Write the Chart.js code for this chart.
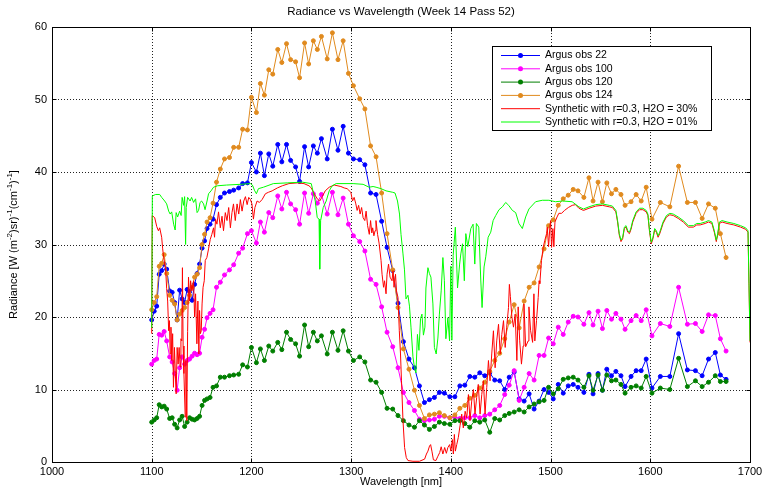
<!DOCTYPE html>
<html>
<head>
<meta charset="utf-8">
<script src="https://cdn.jsdelivr.net/npm/chart.js@4.4.0/dist/chart.umd.min.js"></script>
<style>
  body { margin: 0; background: #fff; }
</style>
</head>
<body>
<canvas id="chart" width="767" height="491"></canvas>
<script>
// Radiance vs wavelength - Argus observations and synthetic spectra

const FONT = '"Liberation Sans", Arial, Helvetica, sans-serif';

// Axis ticks
const xTicks = [1000, 1100, 1200, 1300, 1400, 1500, 1600, 1700];
const yTicks = [0, 10, 20, 30, 40, 50, 60];

// Argus channel wavelengths [nm]
const wavelength = [
    1100, 1102.5, 1105, 1107.5, 1110, 1112.5, 1115, 1118, 1120.5, 1123,
    1125.5, 1128, 1130.5, 1133, 1135.5, 1138, 1140.5, 1143, 1145.5, 1148,
    1150.5, 1153, 1155.5, 1158.5, 1161.5, 1165, 1168.8, 1173, 1178, 1182.2,
    1187.2, 1191.2, 1196, 1200, 1205, 1209, 1213, 1217.4, 1221.4, 1226.4,
    1230.5, 1235.2, 1239.3, 1244.3, 1248.3, 1253.3, 1257.4, 1262.1, 1266.1, 1270.2,
    1276, 1281.2, 1286.8, 1292, 1297.3, 1302.3, 1308.6, 1313.8, 1319.5, 1325,
    1330.6, 1336, 1341.7, 1347, 1352.4, 1358, 1363.5, 1368.5, 1373.5, 1378.5,
    1383.5, 1388.5, 1393.5, 1399, 1404, 1409, 1414, 1419, 1424, 1429,
    1434, 1439, 1444, 1449, 1454, 1458.5, 1463.5, 1468.5, 1473.5, 1478.5,
    1483.5, 1488.5, 1493.5, 1498, 1502.7, 1507.7, 1512.7, 1517.7, 1522.7, 1527.5,
    1533.4, 1538.5, 1542.6, 1547.6, 1552, 1556.4, 1561.1, 1565.5, 1570.6, 1574.7,
    1580.7, 1585.8, 1590.9, 1595.9, 1601.7, 1610.1, 1619.6, 1628.4, 1637.2, 1645.3,
    1652, 1658.4, 1665.2, 1670.3, 1676
];

// Argus obs 22
const obs22 = [
    19.6, 20.8, 21.5, 25.9, 26.4, 27.3, 26.6, 23.6, 23.4, 22,
    19.6, 23.7, 22.5, 22, 23.8, 23.5, 22.3, 24.5, 26, 27.3,
    29.5, 30.5, 32.2, 32.8, 33.5, 35.5, 36.5, 37.1, 37.3, 37.5,
    37.8, 38.4, 38.5, 41.3, 40, 42.6, 39.5, 42.5, 40.8, 43.8,
    41.4, 43.8, 41.6, 40.7, 38.7, 43.5, 40.7, 43.6, 42.6, 44.6,
    41.8, 45.9, 43, 46.3, 42.6, 41.8, 41.7, 41, 37.1, 36.9,
    33.2, 29.6, 26.4, 21.9, 16.6, 14.2, 13, 10.5, 8.2, 8.6,
    8.9, 9.6, 9.5, 9.0, 9.0, 10.5, 10.6, 11.8, 11.7, 12.3,
    11.9, 12.3, 11.3, 11.2, 10, 11.7, 12.4, 8.7, 8.4, 9.4,
    7.3, 8.4, 10, 9.6, 8.7, 10.7, 9.5, 10.5, 10.7, 10.3,
    9.6, 12.1, 9.4, 12.2, 9.9, 12.8, 11.9, 12.5, 11.9, 10.4,
    11.8, 12.6, 12.6, 14.2, 10.2, 11.8, 11.8, 17.7, 12.7, 12.6,
    11.9, 14.2, 15.1, 12, 11.4
];

// Argus obs 100
const obs100 = [
    13.5, 14, 14.2, 17.6, 17.5, 18, 16.7, 14.5, 13.8, 12.2,
    9.9, 13, 14.5, 13.5, 14, 14.2, 14.6, 15, 14.8, 15,
    17.2, 18.3, 19.9, 20.5, 21, 24.1, 24.8, 25.8, 26.5, 27.2,
    28.8, 29.5, 31.5, 31.9, 30.2, 33.1, 31.7, 34.4, 33.7, 36.7,
    34.9, 37.2, 35.6, 34.8, 32.8, 37.1, 34.3, 37, 35.7, 36.9,
    34.2, 37.2, 34.1, 36.4, 32.8, 31.2, 30.4, 29.1, 25.2, 24.5,
    21.4, 17.9, 15.9, 13, 9.6, 8.2, 7.1, 5.9, 5.7, 5.8,
    5.9, 6.3, 6.3, 6.1, 6.2, 6.0, 6.1, 6.1, 6.4, 6.1,
    6.4, 6.6, 7.2, 7.8, 9.3, 10.6, 12.6, 8.5, 10.3, 12.2,
    11.3, 14.7, 14.7, 17.1, 16.3, 18.6, 17.6, 19.3, 20.1, 20,
    19, 20.6, 18.9, 20.8, 18.4, 20.9, 19.7, 20.5, 19.7, 18.3,
    19.5, 20.2, 19.5, 21, 17.4, 19.1, 18.7, 24.1, 19, 19.1,
    18, 20.3, 20.2, 17, 15.3
];

// Argus obs 120
const obs120 = [
    5.5, 5.8, 6.1, 7.9, 7.6, 7.7, 7.3, 6, 6.1, 5.2,
    4.7, 5.8, 6.3, 4.9, 5.5, 6.1, 5.9, 5.8, 6.0, 6.3,
    7.8, 8.5, 8.7, 8.9, 10.3, 10.5, 11.7, 11.7, 11.9, 12,
    12.1, 13.4, 13.1, 15.8, 13.7, 15.6, 14, 16, 15.3, 16.5,
    15.5, 17.9, 16.9, 16.3, 14.6, 18.9, 15.9, 17.9, 16.7, 17.4,
    14.9, 17.9, 15.4, 18.1, 15.3, 14, 14.5, 13.8, 11.3, 11,
    9.6, 7.4, 7.3, 6.4, 5.7, 5.1, 4.8, 5.7, 5.1, 4.5,
    4.9, 5.5, 5.3, 5.2, 5.7, 5.7, 5.3, 4.8, 5.7, 5.5,
    5.8, 4.1, 6.0, 5.8, 6.4, 6.7, 6.9, 7.2, 6.9, 7.6,
    8, 8.3, 8.5, 10.3, 9.4, 10.1, 11.4, 11.6, 11.7, 11.3,
    10.3, 11.9, 9.9, 12, 9.9, 12, 11.2, 11.3, 10.7, 9.5,
    10.3, 10.5, 10.2, 11.8, 9.5, 10.2, 10, 14.3, 10.4, 11.2,
    10.4, 11, 11.9, 11.1, 11.1
];

// Argus obs 124
const obs124 = [
    21, 22, 22.8, 27, 27.4, 28.6, 26, 23, 22.3, 21.8,
    19.6, 20.4, 20.9, 21.3, 22, 23, 24.1, 25.5, 25.9, 26.8,
    30, 31.4, 33.1, 33.7, 35.7, 38.6, 40.4, 41.8, 42, 43.4,
    43.4, 45.9, 45.8, 50.3, 48.2, 52.2, 50.6, 54.1, 53.5, 56.9,
    55.1, 57.7, 55.5, 55.2, 53, 57.8, 54.9, 58.1, 56.9, 58.7,
    55.6, 59.2, 55.5, 58.1, 53.6, 51.9, 50.1, 48.7, 43.6, 42.1,
    37.1, 31.5, 26.5, 21.3, 15.6, 12.8, 9.9, 7.8, 6, 6.5,
    6.6, 6.8, 6.4, 6.1, 6.5, 7.4, 7.8, 8.8, 9.2, 10.2,
    11, 12.5, 14, 15, 17, 19.3, 21.7, 18.5, 22.2, 24.1,
    24.7, 26.9, 29.4, 32.6, 33.4, 35.4, 36.3, 36.8, 37.6, 37.4,
    36.5, 39.2, 36, 38.6, 35.9, 38.5, 37, 37.6, 36.9, 35.4,
    35.9, 36.9, 36, 37.9, 33.5, 35.8, 35.2, 40.8, 35.8, 35.8,
    33.6, 35.6, 35, 31.5, 28.2
];

// Synthetic, r=0.3, H2O = 30%  [wavelength, radiance]
const syn30 = [
    [1100,17.7],[1100.5,34],[1103,33.7],[1105,32.5],[1106.7,31.9],[1108,32.3],[1110,31],[1111,29.4],
    [1112,28.2],[1113,27.3],[1114,26.5],[1115,23.9],[1116,22.2],[1117,18.1],[1117.8,19.5],[1118.5,14.9],
    [1119.3,18.6],[1120.1,14],[1121,17.7],[1121.8,10.3],[1122.8,15.8],[1123.7,12.2],[1124.5,9.4],[1125.5,15.8],
    [1126.5,13.5],[1127.5,15.8],[1128.5,13.1],[1129.3,17],[1130.2,16.7],[1130.8,26.8],[1131.5,16],[1132.3,12.2],
    [1133.6,6.2],[1134.3,14],[1135.2,5.7],[1136,18],[1136.9,25.5],[1137.9,22.2],[1139,25],[1140.3,23.6],
    [1141.3,24.5],[1142,25],[1143,20],[1144,23.2],[1145.3,16.3],[1146.3,22.2],[1147.3,14.9],[1148,20.9],
    [1148.8,17.7],[1149.7,18.1],[1150.5,21.8],[1151.5,24.1],[1152.7,25],[1153.7,27.8],[1155.3,28.2],[1157,29.4],
    [1158.7,30.7],[1160.3,31.4],[1162,32.3],[1163,31],[1164,33.5],[1165.4,32.8],[1167,34.5],[1168.8,32.3],
    [1170.5,33.9],[1172,31.9],[1173.8,34.4],[1175.5,33.3],[1177.2,35.1],[1178.9,32.3],[1180.5,34.4],[1182,35.6],
    [1183.8,33.3],[1185.6,35.6],[1187.3,34.2],[1188.9,36.2],[1190.6,34.6],[1192.3,36],[1194,36.6],[1195.7,35.5],
    [1197.3,36.5],[1199,36.2],[1200.5,35.6],[1202,33.5],[1203.5,35.1],[1205.7,36],[1208,35.8],[1210.7,36.2],
    [1214,37],[1217,37.2],[1220.8,37.4],[1226,37.8],[1231,38.1],[1237.6,38.4],[1246,38.5],[1252.7,38.4],
    [1257.7,38.1],[1260,37.8],[1263,37],[1266,36.3],[1268.5,36],[1271,36.6],[1274,37.4],[1278,37.9],
    [1283,38.2],[1289.7,38],[1293,37.8],[1296,37.7],[1299.7,37.2],[1301.4,36],[1303,36.5],[1304.7,35.6],
    [1306,34.7],[1307.5,35.4],[1309,34.2],[1310.5,35.1],[1312,33.7],[1313.7,33.3],[1315,34.6],[1316.5,32.6],
    [1318.2,31.4],[1319.5,33.3],[1320.7,31.6],[1321.6,32.3],[1322.8,31.2],[1324,31.9],[1324.9,33.3],[1326.5,31.4],
    [1328,30.2],[1330,27.8],[1331,25.9],[1332.5,24.1],[1333.5,25],[1335,23.2],[1336,25.9],[1337.5,27.3],
    [1339,25.5],[1341,25],[1342,26.4],[1343,24.1],[1344.5,25.9],[1345.5,23.6],[1347,22.7],[1348.3,18.1],
    [1349.5,14.9],[1350.5,11.2],[1352,5.7],[1353.6,2],[1355.3,0.6],[1357,0.2],[1362,0.1],[1368.5,0.1],
    [1373.7,0.4],[1375.5,1.1],[1377,1.5],[1378.6,2.2],[1379.7,2.4],[1381,1.5],[1382.5,0.3],[1385,0.2],
    [1387,0.8],[1388.8,1.3],[1390.3,2.1],[1392,1.1],[1393.8,2],[1395.5,1.2],[1397,2],[1398.8,2.4],
    [1400,1.5],[1401.5,3.1],[1402.5,1.1],[1403.5,3.8],[1404.5,1.5],[1405.9,2.4],[1407.5,3.4],[1409.2,5],
    [1410.9,6.6],[1412.5,4.7],[1414.3,7],[1416,6.1],[1417.6,9.3],[1419.2,5.7],[1420.9,8.4],[1422.6,10],
    [1424.2,6.6],[1425.9,8.9],[1427.5,10.7],[1429.3,6.6],[1431,9.3],[1432.6,11.2],[1434.3,6.6],[1436,10.3],
    [1437.7,14],[1439.3,11.2],[1441,14.9],[1442.7,18.1],[1444.4,13],[1446,16.7],[1447.8,19],[1449.5,14.9],
    [1451.1,17.6],[1452.8,19.5],[1454.5,15.8],[1456,18.6],[1457.8,21.3],[1458.7,24.5],[1459.7,22.8],[1461.2,20],
    [1462.8,18.6],[1464.5,20.4],[1466.2,14],[1467.5,21.4],[1469,16.8],[1470.8,13.5],[1472.5,16],[1473.3,21.8],
    [1475,15.9],[1477.5,16.7],[1478.3,21.4],[1480,18.1],[1482,16.5],[1483.3,23.2],[1484.2,16.7],[1485.9,19.5],
    [1487.6,22.7],[1488.5,25],[1489.2,24.6],[1490.9,27.8],[1492.6,29.6],[1494.3,30.6],[1496,31.5],[1496.7,32.4],
    [1498,29.7],[1499.3,32.4],[1500,33.3],[1501,29.6],[1502.3,32.2],[1503.3,29.7],[1504.4,33.1],[1506.5,33.8],
    [1508.3,34.3],[1511,34.3],[1514,34.7],[1517.8,35.1],[1521.7,35.4],[1525,35.5],[1528.4,35.0],[1533,34.7],
    [1538.5,35.0],[1545.3,35.3],[1552,35.4],[1558.8,35.2],[1562,35.1],[1565.5,34.5],[1567.2,33.1],[1568.9,31.3],
    [1570.6,30.4],[1572.3,30.8],[1574,32.2],[1575.7,32.4],[1577.4,31.7],[1579.1,31.5],[1580.7,32.1],[1582.4,33.1],
    [1585.8,34.3],[1589.2,34.8],[1592.6,34.8],[1595.9,34.5],[1597.6,34],[1599.3,31.7],[1601,30.1],[1602.7,30.8],
    [1604.4,32],[1606.1,31.7],[1607.8,31],[1609.5,31.5],[1612.8,32.9],[1616.2,33.8],[1619.6,34.1],[1623,34],
    [1628,33.6],[1633.1,33.1],[1638.2,32.4],[1643.2,32.4],[1646.6,32.7],[1650,32.7],[1655,32.9],[1658.4,33.1],
    [1661.8,32.9],[1664.2,31.7],[1666.2,30.4],[1667.6,31.3],[1669.3,32.9],[1672,33.1],[1677,32.9],[1683.8,32.7],
    [1690.5,32.4],[1695.6,32.1],[1698,31.7],[1699,24.4],[1700,16.5]
];

// Synthetic, r=0.3, H2O = 01%  [wavelength, radiance]
const syn01 = [
    [1100,18.5],[1100.6,36.7],[1104,36.9],[1108,36.9],[1110,36.5],[1113,36],[1115,35.6],[1117,34.6],
    [1118.5,34.2],[1120,34.5],[1122,32.8],[1123.5,32],[1124.5,34.4],[1126,33.8],[1128,34.6],[1129.5,34],
    [1130.5,36.5],[1132,35.4],[1133,36.6],[1134,30],[1134.6,35.1],[1136,36.5],[1138.5,36],[1140,36.5],
    [1142,35.8],[1144,36.3],[1145.5,34.4],[1147,34.7],[1148.5,35.8],[1150,36],[1152,35.6],[1153.5,34.8],
    [1155.5,36],[1157,37],[1159.5,37.4],[1162,37.9],[1166,38.1],[1175,38.2],[1189,38.3],[1199,38.4],
    [1201,38.2],[1203,37.5],[1205,37],[1207,37.7],[1212,37.9],[1222,38.4],[1236,38.5],[1251,38.6],
    [1260,38.4],[1264,36],[1266,33.7],[1267.8,33.5],[1268.5,26.6],[1269.4,33.3],[1272,35.1],[1275,36],
    [1278,37.4],[1281,38.1],[1285,38.4],[1302,38.4],[1312,38.3],[1318,37.9],[1322,38],[1325,37.9],
    [1330,37.7],[1335,37.4],[1341.7,37.2],[1344,37.1],[1346.5,36],[1348.5,34.2],[1350,31.4],[1352,28.7],
    [1353.5,26.5],[1355,22.5],[1357,23],[1358.5,21.5],[1360,18.6],[1362,14.5],[1363.5,13],[1365,12.3],
    [1366.5,17.6],[1368,15.4],[1369.6,19.8],[1371,20.4],[1372.5,17.5],[1374,18.6],[1375,24],[1377,26.8],
    [1378.5,26],[1380,25.5],[1382,21.8],[1383.5,15.8],[1385.3,14.9],[1387,17.1],[1388.5,20.4],[1390.3,23.6],
    [1392,28.2],[1393.5,25],[1395,17],[1397,19.9],[1398.7,16.7],[1400,27],[1401,16.8],[1402.3,28.5],
    [1404.5,32.4],[1406.7,24],[1408.8,27.3],[1410,28.7],[1411.7,30.1],[1413.5,25],[1415,31.5],[1417,29.7],
    [1420,32.2],[1422.3,32.8],[1424,27.3],[1425.6,32.9],[1428,32.4],[1430,25.1],[1431.3,21.3],[1433.3,26.9],
    [1435,28.3],[1437.4,31],[1440,31.7],[1442.4,33.3],[1445,34],[1448.3,34.8],[1451.7,35.2],[1455,35.8],
    [1458,35.4],[1461.7,34.7],[1465,34.4],[1468.3,32.9],[1471.7,32.2],[1475,33.8],[1478.3,34.9],[1485,35.9],
    [1491.7,36.1],[1498.3,36.1],[1505,35.9],[1512,36],[1521.6,35.9],[1528.4,35.2],[1533,34.9],[1538.5,35.2],
    [1545.3,35.5],[1552,35.6],[1558.8,35.4],[1562,35.3],[1565.5,34.7],[1567.2,33.3],[1568.9,31.5],[1570.6,30.6],
    [1572.3,31],[1574,32.4],[1575.7,32.6],[1577.4,31.9],[1579.1,31.7],[1580.7,32.3],[1582.4,33.3],[1585.8,34.5],
    [1589.2,35],[1592.6,35],[1595.9,34.7],[1597.6,34.2],[1599.3,31.9],[1601,30.3],[1602.7,31],[1604.4,32.2],
    [1606.1,31.9],[1607.8,31.2],[1609.5,31.7],[1612.8,33.1],[1616.2,34],[1619.6,34.3],[1623,34.2],[1628,33.8],
    [1633.1,33.3],[1638.2,32.6],[1643.2,32.6],[1646.6,32.9],[1650,32.9],[1655,33.1],[1658.4,33.3],[1661.8,33.1],
    [1664.2,31.9],[1666.2,30.6],[1667.6,31.5],[1669.3,33.1],[1672,33.3],[1677,33.1],[1683.8,32.9],[1690.5,32.6],
    [1695.6,32.3],[1698,31.9],[1699,24.6],[1700,16.7]
];

// Colors (MATLAB-like)
const colors = {
    obs22: '#0000ff',
    obs100: '#ff00ff',
    obs120: '#007f00',
    obs124: '#e08a1e',
    syn30: '#ff0000',
    syn01: '#00ff00'
};

// Build point lists
function obsPoints(values) {
    return wavelength.map((w, i) => ({ x: w, y: values[i] }));
}

function pairPoints(pairs) {
    return pairs.map(p => ({ x: p[0], y: p[1] }));
}

// Observation dataset: line with dot markers
function obsDataset(label, values, color, order) {
    return {
        label: label,
        data: obsPoints(values),
        borderColor: color,
        backgroundColor: color,
        borderWidth: 1,
        pointRadius: 2,
        pointBorderWidth: 1,
        pointBorderColor: color,
        pointBackgroundColor: color,
        order: order,
        marker: true
    };
}

// Synthetic dataset: plain line
function synDataset(label, pairs, color, order) {
    return {
        label: label,
        data: pairPoints(pairs),
        borderColor: color,
        backgroundColor: color,
        borderWidth: 1,
        pointRadius: 0,
        order: order,
        marker: false
    };
}

// Grid, frame, legend and texts
const framePlugin = {
    id: 'framePlugin',
    beforeDatasetsDraw(chart) {
        const { ctx, chartArea: a, scales: { x, y } } = chart;
        ctx.save();
        ctx.strokeStyle = '#222';
        ctx.lineWidth = 1;
        ctx.setLineDash([1, 2]);
        ctx.beginPath();
        xTicks.slice(1, -1).forEach(v => {
            const px = Math.round(x.getPixelForValue(v)) + 0.5;
            ctx.moveTo(px, a.top);
            ctx.lineTo(px, a.bottom);
        });
        yTicks.slice(1, -1).forEach(v => {
            const py = Math.round(y.getPixelForValue(v)) + 0.5;
            ctx.moveTo(a.left, py);
            ctx.lineTo(a.right, py);
        });
        ctx.stroke();
        ctx.restore();
    },
    afterDatasetsDraw(chart) {
        const { ctx, chartArea: a, scales: { x, y } } = chart;
        const left = Math.round(a.left) + 0.5;
        const right = Math.round(a.right) + 0.5;
        const top = Math.round(a.top) + 0.5;
        const bottom = Math.round(a.bottom) + 0.5;

        ctx.save();
        ctx.strokeStyle = '#000';
        ctx.lineWidth = 1;
        ctx.strokeRect(left, top, right - left, bottom - top);

        // Inner tick marks on all sides
        ctx.beginPath();
        xTicks.forEach(v => {
            const px = Math.round(x.getPixelForValue(v)) + 0.5;
            ctx.moveTo(px, bottom); ctx.lineTo(px, bottom - 4);
            ctx.moveTo(px, top); ctx.lineTo(px, top + 4);
        });
        yTicks.forEach(v => {
            const py = Math.round(y.getPixelForValue(v)) + 0.5;
            ctx.moveTo(left, py); ctx.lineTo(left + 4, py);
            ctx.moveTo(right, py); ctx.lineTo(right - 4, py);
        });
        ctx.stroke();

        // Legend box
        const box = { x: 492.5, y: 46.5, w: 219, h: 84 };
        ctx.fillStyle = '#fff';
        ctx.fillRect(box.x, box.y, box.w, box.h);
        ctx.strokeRect(box.x, box.y, box.w, box.h);

        ctx.font = '10.5px ' + FONT;
        ctx.textAlign = 'left';
        ctx.textBaseline = 'middle';
        chart.data.datasets.forEach((ds, i) => {
            const ry = 55.5 + i * 13.3;
            ctx.strokeStyle = ds.borderColor;
            ctx.beginPath();
            ctx.moveTo(501, ry);
            ctx.lineTo(540, ry);
            ctx.stroke();
            if (ds.marker) {
                ctx.fillStyle = ds.borderColor;
                ctx.beginPath();
                ctx.arc(520.5, ry, 2.5, 0, Math.PI * 2);
                ctx.fill();
            }
            ctx.fillStyle = '#000';
            ctx.fillText(ds.label, 545, ry);
        });
        ctx.restore();
    },
    afterDraw(chart) {
        const { ctx, chartArea: a } = chart;
        const cx = (a.left + a.right) / 2;
        ctx.save();
        ctx.fillStyle = '#000';
        ctx.textAlign = 'center';
        ctx.textBaseline = 'middle';
        ctx.font = '11.5px ' + FONT;
        ctx.fillText('Radiance vs Wavelength (Week 14 Pass 52)', cx, 12);
        ctx.font = '11px ' + FONT;
        ctx.fillText('Wavelength [nm]', cx, 482);

        // Y label with superscripts
        const parts = [
            ['Radiance [W (m', false], ['-2', true], [')sr)', false], ['-1', true],
            ['(cm', false], ['-1', true], [')', false], ['-1', true], [']', false]
        ];
        const normal = '11px ' + FONT;
        const small = '8px ' + FONT;
        let total = 0;
        parts.forEach(p => {
            ctx.font = p[1] ? small : normal;
            total += ctx.measureText(p[0]).width;
        });
        ctx.translate(14, (a.top + a.bottom) / 2);
        ctx.rotate(-Math.PI / 2);
        ctx.textAlign = 'left';
        let pos = -total / 2;
        parts.forEach(p => {
            ctx.font = p[1] ? small : normal;
            ctx.fillText(p[0], pos, p[1] ? -4 : 0);
            pos += ctx.measureText(p[0]).width;
        });
        ctx.restore();
    }
};

const ctx = document.getElementById('chart').getContext('2d');

new Chart(ctx, {
    type: 'line',
    data: {
        datasets: [
            obsDataset('Argus obs 22', obs22, colors.obs22, 5),
            obsDataset('Argus obs 100', obs100, colors.obs100, 4),
            obsDataset('Argus obs 120', obs120, colors.obs120, 3),
            obsDataset('Argus obs 124', obs124, colors.obs124, 2),
            synDataset('Synthetic with r=0.3, H2O = 30%', syn30, colors.syn30, 1),
            synDataset('Synthetic with r=0.3, H2O = 01%', syn01, colors.syn01, 0)
        ]
    },
    options: {
        responsive: false,
        animation: false,
        devicePixelRatio: 1,
        layout: {
            padding: { top: 27, right: 17, left: 0, bottom: 0 }
        },
        plugins: {
            legend: { display: false },
            tooltip: { enabled: false },
            title: { display: false }
        },
        elements: {
            line: { tension: 0 }
        },
        scales: {
            x: {
                type: 'linear',
                min: 1000,
                max: 1700,
                afterBuildTicks: scale => { scale.ticks = xTicks.map(v => ({ value: v })); },
                afterFit: scale => { scale.height = 29; },
                grid: { display: false, drawTicks: false },
                border: { display: false },
                ticks: {
                    color: '#000',
                    padding: 3,
                    maxRotation: 0,
                    font: { family: FONT, size: 11 },
                    callback: value => String(value)
                }
            },
            y: {
                type: 'linear',
                min: 0,
                max: 60,
                afterBuildTicks: scale => { scale.ticks = yTicks.map(v => ({ value: v })); },
                afterFit: scale => { scale.width = 52; },
                grid: { display: false, drawTicks: false },
                border: { display: false },
                ticks: {
                    color: '#000',
                    padding: 5,
                    font: { family: FONT, size: 11 },
                    callback: value => String(value)
                }
            }
        }
    },
    plugins: [framePlugin]
});
</script>
</body>
</html>
